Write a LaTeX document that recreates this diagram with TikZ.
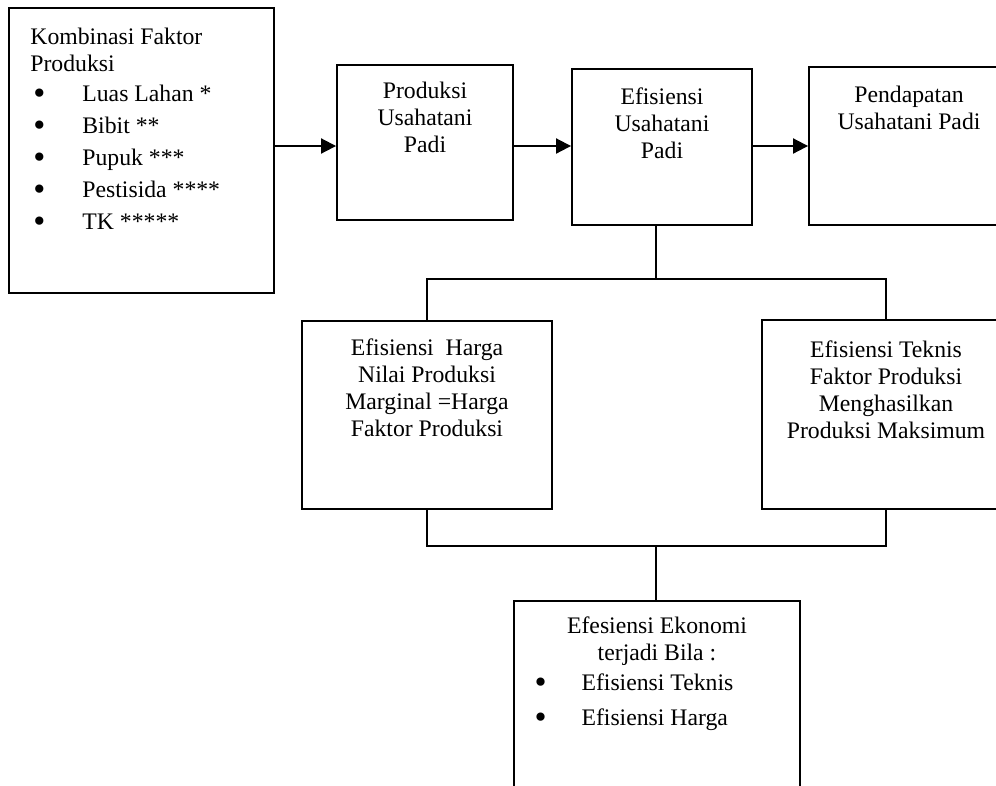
\documentclass[tikz,border=0pt]{standalone}
\usepackage{fontspec}
\setmainfont{Liberation Serif}
\usepackage{graphicx}
\usepackage{tikz}
\usetikzlibrary{arrows.meta, positioning}

\newcommand{\butir}{\raisebox{-0.12em}{\scalebox{1.45}{\textbullet}}}

\begin{document}
\begin{tikzpicture}[x=0.02cm, y=-0.02cm,
        kotak/.style={draw, line width=1.1pt, inner sep=0pt},
        teks/.style={inner sep=0pt, align=center, font=\fontsize{13.5}{15.4}\selectfont},
        garis/.style={line width=1.1pt},
        panah/.style={line width=1.1pt, -{Triangle[length=0.3cm, width=0.3cm]}}]
        % Frame of the figure (right and bottom boxes run off the page)
        \useasboundingbox (0,0) rectangle (996,785);
        \clip (0,0) rectangle (996,785);

        % Boxes
        \node[kotak, minimum width=5.30cm, minimum height=5.70cm] (komb) at (141.5,150.5) {};
        \node[kotak, minimum width=3.52cm, minimum height=3.10cm] (prod) at (425,142.5) {};
        \node[kotak, minimum width=3.60cm, minimum height=3.12cm] (efus) at (662,147) {};
        \node[kotak, minimum width=4.00cm, minimum height=3.16cm] (pend) at (909,146) {};
        \node[kotak, minimum width=5.00cm, minimum height=3.76cm] (harga) at (427,415) {};
        \node[kotak, minimum width=4.96cm, minimum height=3.78cm] (tek) at (886,414.5) {};
        \node[kotak, minimum width=5.72cm, minimum height=4.78cm] (eko) at (657,720) {};

        % Texts
        \node[teks, align=left, below right=0.42cm and 0.44cm of komb.north west] (kombtxt)
            {Kombinasi Faktor\\Produksi\\[1.7pt]
             \hspace*{0.06cm}\makebox[0.98cm][l]{\butir}Luas Lahan *\\[2.8pt]
             \hspace*{0.06cm}\makebox[0.98cm][l]{\butir}Bibit **\\[2.8pt]
             \hspace*{0.06cm}\makebox[0.98cm][l]{\butir}Pupuk ***\\[2.8pt]
             \hspace*{0.06cm}\makebox[0.98cm][l]{\butir}Pestisida ****\\[2.8pt]
             \hspace*{0.06cm}\makebox[0.98cm][l]{\butir}TK *****};
        \node[teks, below=0.36cm of prod.north] (prodtxt) {Produksi\\Usahatani\\Padi};
        \node[teks, below=0.38cm of efus.north] (efustxt) {Efisiensi\\Usahatani\\Padi};
        \node[teks, below=0.40cm of pend.north] (pendtxt) {Pendapatan\\Usahatani Padi};
        \node[teks, below=0.36cm of harga.north] (hargatxt)
            {Efisiensi\ \ Harga\\Nilai Produksi\\Marginal =Harga\\Faktor Produksi};
        \node[teks, below=0.42cm of tek.north] (tektxt)
            {Efisiensi Teknis\\Faktor Produksi\\Menghasilkan\\Produksi Maksimum};
        \node[teks, below=0.34cm of eko.north] (ekotxt)
            {Efesiensi Ekonomi\\terjadi Bila :\\[1.7pt]
             \makebox[4.9cm][l]{\makebox[0.94cm][l]{\butir}Efisiensi Teknis}\\[4.6pt]
             \makebox[4.9cm][l]{\makebox[0.94cm][l]{\butir}Efisiensi Harga}};

        % Arrows along the top row
        \draw[panah] (komb.east |- pend.west) -- (prod.west |- pend.west);
        \draw[panah] (prod.east |- pend.west) -- (efus.west |- pend.west);
        \draw[panah] (efus.east |- pend.west) -- (pend.west);

        % Branch and join lines
        \coordinate (cabang) at (656,279);
        \coordinate (gabung) at (656,546);
        \draw[garis] (cabang |- efus.south) -- (cabang);
        \draw[garis] (harga.north) |- (cabang) -| (tek.north);
        \draw[garis] (harga.south) |- (gabung) -| (tek.south);
        \draw[garis] (gabung) -- (gabung |- eko.north);
\end{tikzpicture}
\end{document}
